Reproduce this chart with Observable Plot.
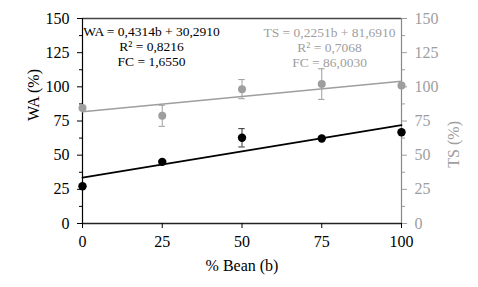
<!DOCTYPE html>
<html><head><meta charset="utf-8">
<script src="https://cdn.jsdelivr.net/npm/d3@7"></script>
<script src="https://cdn.jsdelivr.net/npm/@observablehq/plot@0.6"></script>
<style>body{margin:0;background:#fff;}</style>
</head><body><div id="chart"></div>
<script>
const beanPct = [0, 25, 50, 75, 100];
const waValues = [27.3, 45.1, 62.7, 62.2, 66.8];
const waErrors = [0, 0, 6.7, 0, 0];
const tsValues = [84.6, 78.8, 98.3, 102, 101];
const tsErrors = [0, 7.7, 7, 11.2, 0];
const yTicks = [0, 25, 50, 75, 100, 125, 150];
const yMinorTicks = [12.5, 37.5, 62.5, 87.5, 112.5, 137.5];
const xTicks = [0, 25, 50, 75, 100];
const waText = "WA = 0,4314b + 30,2910\nR² = 0,8216\nFC = 1,6550";
const tsText = "TS = 0,2251b + 81,6910\nR² = 0,7068\nFC = 86,0030";

const wa = beanPct.map((b, i) => ({x: b, y: waValues[i], e: waErrors[i]}));
const ts = beanPct.map((b, i) => ({x: b, y: tsValues[i], e: tsErrors[i]}));
const waErr = wa.filter(d => d.e > 0);
const tsErr = ts.filter(d => d.e > 0);

const black = "#000";
const gray = "#9e9e9e";
const font = "Liberation Serif";

const chart = Plot.plot({
  width: 478, height: 287,
  marginLeft: 82, marginRight: 77, marginTop: 18, marginBottom: 64,
  style: {fontFamily: font, background: "#fff"},
  x: {domain: [0, 100]},
  y: {domain: [0, 150]},
  marks: [
    Plot.ruleY([150], {stroke: "#444", strokeWidth: 1.5}),
    Plot.ruleX([100], {stroke: "#888", strokeWidth: 1.2}),
    Plot.ruleX([0], {stroke: black, strokeWidth: 1.2}),
    Plot.ruleY([0], {stroke: "#222", strokeWidth: 1.5}),
    Plot.axisY({anchor: "left", ticks: yTicks, tickSize: 5, tickPadding: 8, fontSize: 16, color: black, label: null}),
    Plot.axisY({anchor: "left", ticks: yMinorTicks, tickSize: 3, tickFormat: () => "", color: black, label: null}),
    Plot.axisY({anchor: "right", ticks: yTicks, tickSize: 5, tickPadding: 8, fontSize: 16, color: gray, label: null}),
    Plot.axisY({anchor: "right", ticks: yMinorTicks, tickSize: 3, tickFormat: () => "", color: gray, label: null}),
    Plot.axisX({ticks: xTicks, tickSize: 5, tickPadding: 7, fontSize: 16, color: black, label: null}),
    Plot.linearRegressionY(ts, {x: "x", y: "y", stroke: gray, strokeWidth: 1.6, ci: 0}),
    Plot.linearRegressionY(wa, {x: "x", y: "y", stroke: black, strokeWidth: 1.8, ci: 0}),
    Plot.ruleX(tsErr, {x: "x", y1: d => d.y - d.e, y2: d => d.y + d.e, stroke: gray, strokeWidth: 1}),
    Plot.ruleY(tsErr, {y: d => d.y - d.e, x1: d => d.x - 1, x2: d => d.x + 1, stroke: gray, strokeWidth: 1}),
    Plot.ruleY(tsErr, {y: d => d.y + d.e, x1: d => d.x - 1, x2: d => d.x + 1, stroke: gray, strokeWidth: 1}),
    Plot.ruleX(waErr, {x: "x", y1: d => d.y - d.e, y2: d => d.y + d.e, stroke: "#333", strokeWidth: 1}),
    Plot.ruleY(waErr, {y: d => d.y - d.e, x1: d => d.x - 1, x2: d => d.x + 1, stroke: "#333", strokeWidth: 1}),
    Plot.ruleY(waErr, {y: d => d.y + d.e, x1: d => d.x - 1, x2: d => d.x + 1, stroke: "#333", strokeWidth: 1}),
    Plot.dot(ts, {x: "x", y: "y", r: 4, fill: gray, stroke: null}),
    Plot.dot(wa, {x: "x", y: "y", r: 4.2, fill: black, stroke: null}),
    Plot.text([waText], {frameAnchor: "top-left", dx: 69, dy: 27.5, lineAnchor: "middle", textAnchor: "middle", lineHeight: 1.13, fontSize: 13.5, fill: black}),
    Plot.text([tsText], {frameAnchor: "top-left", dx: 247, dy: 28.5, lineAnchor: "middle", textAnchor: "middle", lineHeight: 1.13, fontSize: 13.5, fill: gray}),
    Plot.text(["WA (%)"], {frameAnchor: "left", dx: -49, rotate: -90, fontSize: 16, fill: black}),
    Plot.text(["TS (%)"], {frameAnchor: "right", dx: 52, rotate: -90, fontSize: 16, fill: gray}),
    Plot.text(["% Bean (b)"], {frameAnchor: "bottom", dy: 42, lineAnchor: "middle", fontSize: 16, fill: black})
  ]
});
document.getElementById("chart").append(chart);
</script>
</body></html>
